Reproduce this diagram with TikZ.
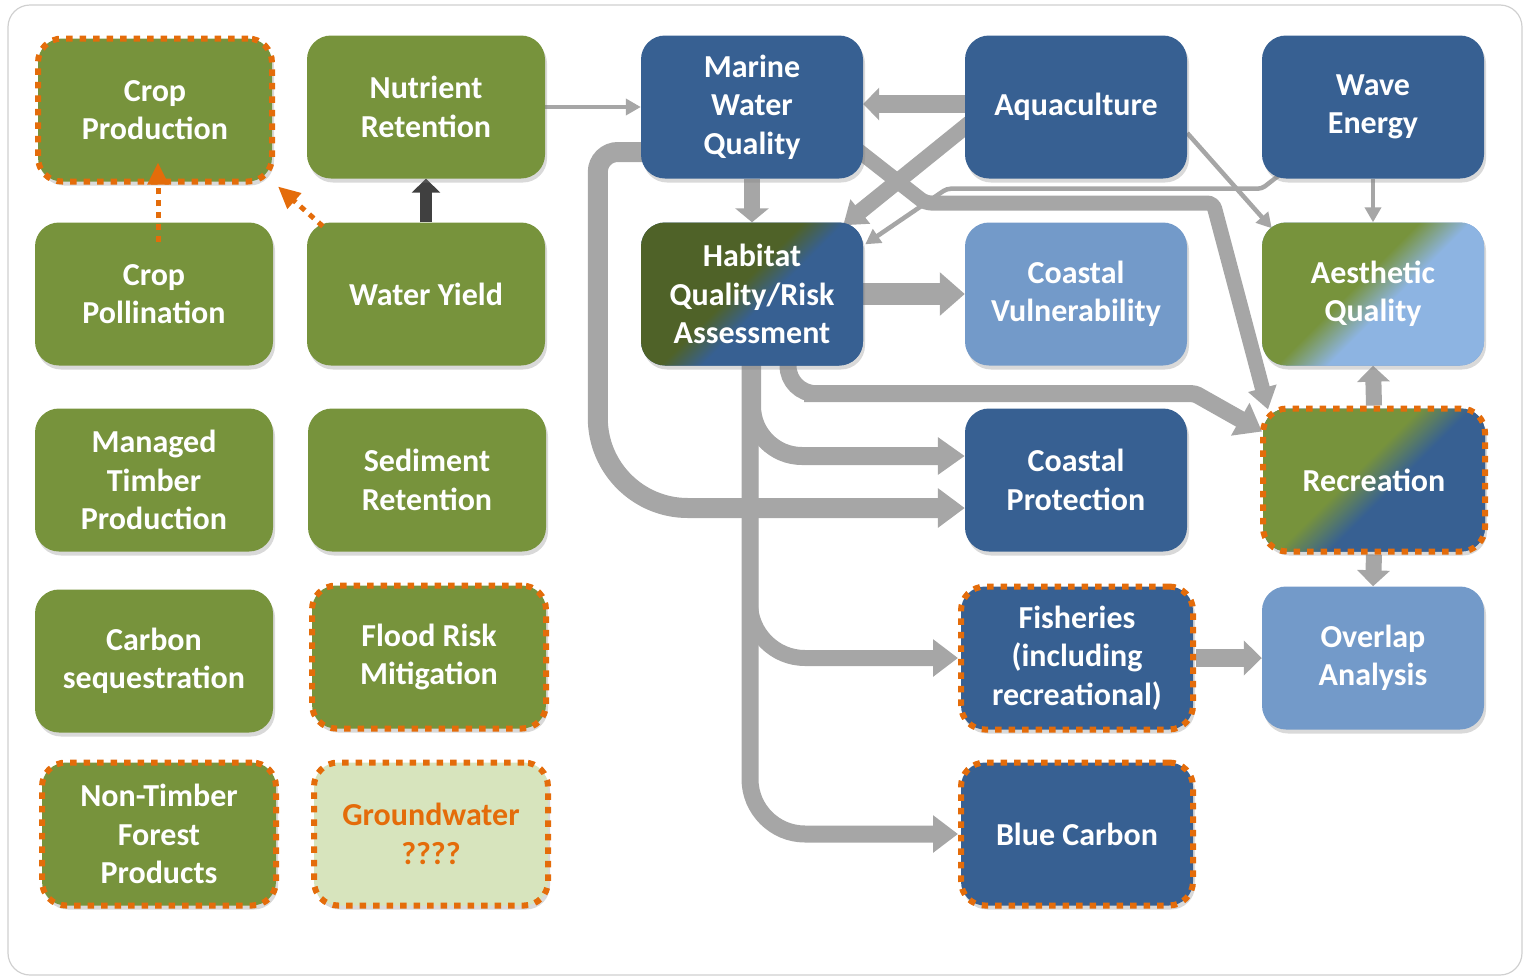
\documentclass[tikz,border=0pt]{standalone}
\usepackage{fontspec}
\setmainfont{Carlito}
\usepackage{tikz}
\usetikzlibrary{arrows.meta, calc, shadows, backgrounds, positioning}

\definecolor{svcgreen}{HTML}{77933C}
\definecolor{svcblue}{HTML}{376092}
\definecolor{svclight}{HTML}{739AC9}
\definecolor{aestblue}{HTML}{8DB4E2}
\definecolor{habgreen}{HTML}{4F6228}
\definecolor{svcorange}{HTML}{E46C0A}
\definecolor{groundfill}{HTML}{D7E4BD}
\definecolor{flowgray}{HTML}{A6A6A6}
\definecolor{linkdark}{HTML}{404040}
\definecolor{framegray}{HTML}{D0D0D0}

\pgfdeclarehorizontalshading{habshade}{100bp}{color(0bp)=(habgreen); color(46bp)=(habgreen); color(54bp)=(svcblue); color(100bp)=(svcblue)}
\pgfdeclarehorizontalshading{aestshade}{100bp}{color(0bp)=(svcgreen); color(45bp)=(svcgreen); color(55bp)=(aestblue); color(100bp)=(aestblue)}
\pgfdeclarehorizontalshading{recrshade}{100bp}{color(0bp)=(svcgreen); color(45bp)=(svcgreen); color(55bp)=(svcblue); color(100bp)=(svcblue)}

\begin{document}
\begin{tikzpicture}[x=1pt, y=-1pt,
	svc/.style={rounded corners=24pt, minimum width=222pt, minimum height=143pt, inner sep=0pt, align=center, text=white, font=\fontsize{32}{38.5}\selectfont\bfseries, drop shadow={opacity=0.3, shadow xshift=2pt, shadow yshift=-4pt}},
	land/.style={svc, fill=svcgreen, minimum width=238pt},
	sea/.style={svc, fill=svcblue},
	coast/.style={svc, fill=svclight},
	dotborder/.style={draw=svcorange, line width=6pt, dash pattern=on 6.5pt off 7pt},
	flow/.style={draw=flowgray, line width=17pt, -{Triangle[length=25pt, width=36pt]}},
	thinflow/.style={draw=flowgray, line width=4.5pt, -{Triangle[length=15pt, width=16pt]}},
	hint/.style={draw=svcorange, line width=5pt, dash pattern=on 6pt off 6pt, -{Triangle[length=22pt, width=20pt]}}
	]
					\useasboundingbox (0,0) rectangle (1526,978);

					\node (cprod) [land, dotborder, minimum width=234pt] at (155,110) {Crop\\Production};
					\node (nutr) [land] at (426,107) {Nutrient\\Retention};
					\node (cpoll) [land] at (154,294) {Crop\\Pollination};
					\node (wyield) [land] at (426,294) {Water Yield};
					\node (timber) [land] at (154,480) {Managed\\Timber\\Production};
					\node (sedim) [land] at (427,480) {Sediment\\Retention};
					\node (carbon) [land] at (154,661) {Carbon\\sequestration};
					\node (flood) [land, dotborder, minimum width=234pt] at (429,657) {Flood Risk\\Mitigation};
					\node (ntfp) [land, dotborder, minimum width=234pt] at (159,834) {Non-Timber\\Forest\\Products};
					\node (ground) [land, dotborder, minimum width=234pt, fill=groundfill, text=svcorange] at (431,834) {Groundwater\\????};

					\node (mwq) [sea] at (752,107) {Marine\\Water\\Quality};
					\node (aqua) [sea] at (1076,107) {Aquaculture};
					\node (wave) [sea] at (1373,107) {Wave\\Energy};
					\node (hab) [sea, shade, shading=habshade, shading angle=-45] at (752,294) {Habitat\\Quality/Risk\\Assessment};
					\node (cvul) [coast] at (1076,294) {Coastal\\Vulnerability};
					\node (aest) [coast, shade, shading=aestshade, shading angle=-45] at (1373,294) {Aesthetic\\Quality};
					\node (cprot) [sea] at (1076,480) {Coastal\\Protection};
					\node (recr) [sea, dotborder, shade, shading=recrshade, shading angle=-45] at (1374,480) {Recreation};
					\node (fish) [sea, dotborder, minimum width=232pt] at (1077,658) {Fisheries\\(including\\recreational)};
					\node (overlap) [coast] at (1373,658) {Overlap\\Analysis};
					\node (bluec) [sea, dotborder, minimum width=232pt] at (1077,834) {Blue Carbon};

					\begin{scope}[on background layer]
						\draw[framegray, line width=1.2pt, rounded corners=22pt] (8,5) rectangle (1522,975);

						\draw[thinflow] (nutr.east) -- (mwq.west);
						\draw[thinflow] ($(aqua.east)+(0,26)$) -- ($(aest.north west)+(10,6)$);
						\draw[thinflow] (wave.south) -- (aest.north);
						\draw[thinflow, rounded corners=4pt] ($(wave.south west)+(18,-4)$) -- ++(-18,14) -- ++(-315,0) -- ($(hab.north east)+(2,22)$);
						\draw[draw=linkdark, line width=12pt, -{Triangle[length=14pt, width=28pt]}] (wyield.north) -- (nutr.south);

						\draw[flow, line width=18pt, -{Triangle[length=16pt, width=32pt]}] ($(aqua.west)+(5,-3)$) -- ($(mwq.east)+(0,-3)$);
						\draw[flow, line width=16pt, -{Triangle[length=14pt, width=33pt]}] (mwq.south) -- (hab.north);
						\draw[flow, line width=16pt, -{Triangle[length=22pt, width=30pt]}] ($(aqua.west)+(5,16)$) -- ($(hab.north east)+(-20,3)$);
						\draw[flow, line width=15pt, -{Triangle[length=22pt, width=28pt]}, rounded corners=6pt] ($(mwq.east)+(-12,38)$) -- ++(74,58) -- ++(288,0) -- ($(recr.north west)+(8,4)$);
						\draw[flow, line width=22pt, -{Triangle[length=25pt, width=42pt]}] (hab.east) -- (cvul.west);
						\draw[flow] ($(hab.south)+(36,-10)$) [rounded corners=28pt] -- ($(hab.south)+(36,28)$) -- ($(hab.south)+(80,28)$) [rounded corners=3pt] -- ($(hab.south)+(443,28)$) -- ($(recr.north west)+(2,26)$);
						\draw[flow, line width=18pt, -{Triangle[length=27pt, width=36pt]}, rounded corners=50pt] ($(hab.south)+(0,-10)$) |- ($(cprot.west)+(0,-24)$);
						\draw[flow, line width=20pt, -{Triangle[length=27pt, width=38pt]}] ($(mwq.west)+(10,45)$) [rounded corners=20pt] -- ($(mwq.west)+(-43,45)$) -- ($(mwq.west)+(-43,200)$) [rounded corners=90pt] -- ($(mwq.west)+(-43,401)$) -- ($(cprot.west)+(0,28)$);
						\draw[flow, line width=16pt, rounded corners=55pt] ($(hab.south)+(-2,-10)$) |- (fish.west);
						\draw[flow, line width=17pt, rounded corners=55pt] ($(hab.south)+(-2,-10)$) |- (bluec.west);
						\draw[flow, line width=18pt, -{Triangle[length=18pt, width=34pt]}] (fish.east) -- (overlap.west);
						\draw[flow, line width=16pt, -{Triangle[length=16pt, width=32pt]}] (recr.north) -- (aest.south);
						\draw[flow, line width=16pt, -{Triangle[length=16pt, width=32pt]}] (recr.south) -- (overlap.north);
					\end{scope}

					\draw[hint] ($(cpoll.north)+(4,20)$) -- ($(cprod.south)+(3,-22)$);
					\draw[hint] ($(wyield.north west)+(16,4)$) -- ($(cprod.south east)+(3,2)$);
				\end{tikzpicture}
\end{document}
